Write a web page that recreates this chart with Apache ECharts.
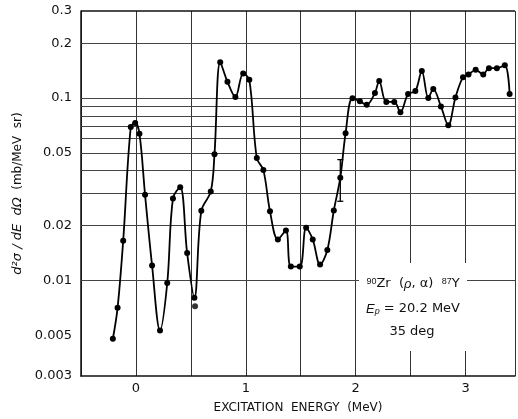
<!DOCTYPE html>
<html>
<head>
<meta charset="utf-8">
<script src="https://cdn.jsdelivr.net/npm/echarts@6/dist/echarts.min.js"></script>
<style>
html, body { margin: 0; padding: 0; background: #fff; }
#chart { width: 518px; height: 419px; }
</style>
</head>
<body>
<div id="chart"></div>
<script>
// excitation energy (MeV) and cross section (mb/MeV sr)
var energy = [-0.210, -0.167, -0.116, -0.047, -0.007, 0.032, 0.083, 0.147, 0.219, 0.285,
    0.337, 0.403, 0.466, 0.532, 0.595, 0.681, 0.715, 0.767, 0.833, 0.905,
    0.976, 1.032, 1.100, 1.160, 1.220, 1.292, 1.365, 1.410, 1.491, 1.549,
    1.609, 1.676, 1.742, 1.801, 1.860, 1.908, 1.971, 2.038, 2.100, 2.175,
    2.214, 2.279, 2.351, 2.407, 2.477, 2.543, 2.602, 2.661, 2.706, 2.776,
    2.843, 2.908, 2.977, 3.027, 3.092, 3.161, 3.213, 3.285, 3.357, 3.401];
var sigma = [0.00480, 0.00709, 0.01654, 0.0694, 0.0730, 0.0638, 0.0295, 0.01208, 0.00533, 0.00970,
    0.0282, 0.0325, 0.01416, 0.00804, 0.0241, 0.0308, 0.0493, 0.1573, 0.1228, 0.1013,
    0.1363, 0.1259, 0.0469, 0.0403, 0.0240, 0.01681, 0.01883, 0.01193, 0.01193, 0.01949,
    0.01681, 0.01224, 0.01470, 0.0242, 0.0366, 0.0641, 0.0998, 0.0961, 0.0919, 0.1066,
    0.1240, 0.0952, 0.0953, 0.0837, 0.1053, 0.1092, 0.1406, 0.1000, 0.1120, 0.0900,
    0.0710, 0.1008, 0.1302, 0.1346, 0.1428, 0.1346, 0.1459, 0.1459, 0.1511, 0.1052];

// dot lying off the drawn curve
var extraEnergy = [0.538];
var extraSigma = [0.00724];

// single error bar
var errEnergy = [1.860];
var errLow = [0.0272];
var errHigh = [0.0460];

var yTickLabels = [0.003, 0.005, 0.01, 0.02, 0.05, 0.1, 0.2, 0.3];
var yGridValues = [0.2, 0.1, 0.09, 0.08, 0.07, 0.06, 0.05, 0.04, 0.03, 0.02,
    0.01, 0.009, 0.008, 0.007, 0.006, 0.005, 0.004];

var curveData = energy.map(function (e, i) { return [e, sigma[i]]; });
var extraData = extraEnergy.map(function (e, i) { return [e, extraSigma[i]]; });
var errData = errEnergy.map(function (e, i) { return [e, errLow[i], errHigh[i]]; });

var myChart = echarts.init(document.getElementById('chart'));

var gridLines = yGridValues.map(function (v) { return { yAxis: v }; });
gridLines.push({ yAxis: 0.3, lineStyle: { color: '#111', width: 1.5, type: 'solid' } });

var font = 'DejaVu Sans, Liberation Sans, sans-serif';

myChart.setOption({
    animation: false,
    textStyle: { fontFamily: font },
    grid: { left: 81, right: 0, top: 11, bottom: 42 },
    xAxis: {
        type: 'value',
        min: -0.5,
        max: 3.45,
        interval: 0.5,
        name: 'EXCITATION  ENERGY  (MeV)',
        nameLocation: 'middle',
        nameGap: 26,
        nameTextStyle: { color: '#111', fontSize: 12 },
        axisLine: { onZero: false, lineStyle: { color: '#111', width: 1.5 } },
        axisTick: { show: false },
        axisLabel: {
            color: '#111',
            fontSize: 13,
            margin: 6,
            formatter: function (v) { return Math.abs(v - Math.round(v)) < 1e-6 ? String(Math.round(v)) : ''; }
        },
        splitLine: { show: true, lineStyle: { color: '#333', width: 1 } }
    },
    yAxis: {
        type: 'log',
        logBase: 10,
        min: 0.003,
        max: 0.3,
        name: '{it|d²σ / dE  dΩ}  (mb/MeV  sr)',
        nameLocation: 'middle',
        nameGap: 56,
        nameTextStyle: {
            color: '#111', fontSize: 12,
            rich: { it: { fontStyle: 'italic', fontSize: 13, color: '#111' } }
        },
        axisLine: { show: true, onZero: false, lineStyle: { color: '#111', width: 1.5 } },
        axisTick: { show: false },
        splitLine: { show: false },
        axisLabel: {
            color: '#111',
            fontSize: 13,
            margin: 9,
            customValues: yTickLabels,
            formatter: function (v) { return String(parseFloat(Number(v).toPrecision(3))); }
        }
    },
    series: [
        {
            name: 'grid',
            type: 'line',
            data: [],
            z: 1,
            silent: true,
            markLine: {
                silent: true,
                symbol: 'none',
                label: { show: false },
                lineStyle: { color: '#444', width: 1, type: 'solid' },
                data: gridLines
            }
        },
        {
            name: 'curve',
            type: 'line',
            data: curveData,
            smooth: 0.35,
            symbol: 'circle',
            symbolSize: 6,
            z: 5,
            itemStyle: { color: '#000' },
            lineStyle: { color: '#000', width: 1.8 }
        },
        {
            name: 'extra',
            type: 'scatter',
            data: extraData,
            symbolSize: 6,
            z: 5,
            itemStyle: { color: '#000' }
        },
        {
            name: 'error',
            type: 'custom',
            data: errData,
            z: 5,
            encode: { x: 0, y: [1, 2] },
            renderItem: function (params, api) {
                var x = api.value(0);
                var lo = api.coord([x, api.value(1)]);
                var hi = api.coord([x, api.value(2)]);
                var cap = 3;
                var style = { stroke: '#000', lineWidth: 1.3 };
                return {
                    type: 'group',
                    children: [
                        { type: 'line', shape: { x1: lo[0], y1: lo[1], x2: hi[0], y2: hi[1] }, style: style },
                        { type: 'line', shape: { x1: lo[0] - cap, y1: lo[1], x2: lo[0] + cap, y2: lo[1] }, style: style },
                        { type: 'line', shape: { x1: hi[0] - cap, y1: hi[1], x2: hi[0] + cap, y2: hi[1] }, style: style }
                    ]
                };
            }
        }
    ],
    graphic: [
        {
            type: 'rect',
            z: 100,
            shape: { x: 359, y: 263, width: 108, height: 88 },
            style: { fill: '#fff' }
        },
        {
            type: 'text',
            z: 101,
            x: 413, y: 284,
            style: {
                text: '{sup|90}Zr  ({it|ρ}, α)  {sup|87}Y',
                align: 'center', verticalAlign: 'middle',
                fill: '#111', fontSize: 13, fontFamily: font,
                rich: {
                    sup: { fontSize: 9, verticalAlign: 'top', fill: '#111' },
                    it: { fontStyle: 'italic', fontSize: 13, fill: '#111' }
                }
            }
        },
        {
            type: 'text',
            z: 101,
            x: 413, y: 309,
            style: {
                text: '{it|E}{sub|p} = 20.2 MeV',
                align: 'center', verticalAlign: 'middle',
                fill: '#111', fontSize: 13, fontFamily: font,
                rich: {
                    it: { fontStyle: 'italic', fontSize: 13, fill: '#111' },
                    sub: { fontStyle: 'italic', fontSize: 9, verticalAlign: 'bottom', fill: '#111' }
                }
            }
        },
        {
            type: 'text',
            z: 101,
            x: 412, y: 332,
            style: {
                text: '35 deg',
                align: 'center', verticalAlign: 'middle',
                fill: '#111', fontSize: 13, fontFamily: font
            }
        }
    ]
});
</script>
</body>
</html>
